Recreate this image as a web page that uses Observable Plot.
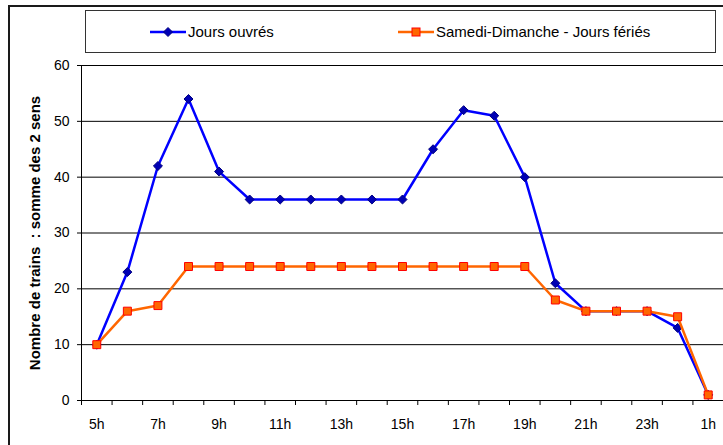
<!DOCTYPE html>
<html><head><meta charset="utf-8">
<script src="https://cdn.jsdelivr.net/npm/d3@7"></script>
<script src="https://cdn.jsdelivr.net/npm/@observablehq/plot@0.6"></script>
<style>
html,body{margin:0;padding:0;background:#fff;}
#wrap{position:relative;width:723px;height:445px;overflow:hidden;font-family:"Liberation Sans",Arial,sans-serif;}
#frame{position:absolute;left:8px;top:5px;width:800px;height:500px;border-left:2px solid #1a1a1a;border-top:2px solid #1a1a1a;}
#legend{position:absolute;left:85px;top:10px;width:629px;height:41px;border:1px solid #333;background:#fff;}
.item{position:absolute;top:0;height:41px;display:flex;align-items:center;font-size:15px;color:#000;white-space:nowrap;}
.item svg{margin-right:2px;}
#chart{position:absolute;left:0;top:54px;}
</style></head>
<body>
<div id="wrap">
  <div id="frame"></div>
  <div id="legend"></div>
  <div id="chart"></div>
</div>
<script>
const hours = ["5h","6h","7h","8h","9h","10h","11h","12h","13h","14h","15h","16h","17h","18h","19h","20h","21h","22h","23h","0h","1h"];
const joursOuvres = [10,23,42,54,41,36,36,36,36,36,36,45,52,51,40,21,16,16,16,13,1];
const weekendFeries = [10,16,17,24,24,24,24,24,24,24,24,24,24,24,24,18,16,16,16,15,1];
const yTicks = [0,10,20,30,40,50,60];
const seriesNames = ["Jours ouvrés","Samedi-Dimanche - Jours fériés"];
const yLabel = "Nombre de trains\u00a0 : somme des 2 sens";

const blue = "#0000FF", blueMark = "#0000B4", blueMarkStroke = "#000080";
const orange = "#FF6600", orangeStroke = "#FF0000";

// rotated-square diamond like Excel's marker
const squareDiamond = {
  draw(context, size) {
    const r = Math.sqrt(size / 2);
    context.moveTo(0, -r);
    context.lineTo(r, 0);
    context.lineTo(0, r);
    context.lineTo(-r, 0);
    context.closePath();
  }
};

// legend
const legend = document.getElementById("legend");
const legendPos = [64, 312];
seriesNames.forEach((name, k) => {
  const d = document.createElement("div");
  d.className = "item";
  d.style.left = legendPos[k] + "px";
  const sw = k === 0
    ? `<svg width="36" height="12"><line x1="0" y1="6" x2="36" y2="6" stroke="${blue}" stroke-width="2.5"/><path d="M18,1.5L22.5,6L18,10.5L13.5,6Z" fill="${blueMark}" stroke="${blueMarkStroke}"/></svg>`
    : `<svg width="36" height="12"><line x1="0" y1="6" x2="36" y2="6" stroke="${orange}" stroke-width="2.5"/><rect x="14" y="2" width="8" height="8" fill="${orange}" stroke="${orangeStroke}"/></svg>`;
  d.innerHTML = sw + `<span>${name}</span>`;
  legend.appendChild(d);
});

const a = hours.map((h, i) => ({i, h, v: joursOuvres[i]}));
const b = hours.map((h, i) => ({i, h, v: weekendFeries[i]}));
const idx = hours.map((h, i) => i);
const bounds = d3.range(hours.length + 1).map(i => i - 0.5);

const chart = Plot.plot({
  width: 723, height: 391,
  marginLeft: 81, marginRight: 0, marginTop: 11, marginBottom: 45,
  style: {fontFamily: "Liberation Sans, Arial, sans-serif", fontSize: "14px", color: "#000", background: "transparent", overflow: "visible"},
  x: {type: "linear", domain: [-0.5, hours.length - 0.5]},
  y: {domain: [0, 60]},
  marks: [
    Plot.gridY(yTicks.filter(t => t > 0), {stroke: "#000", strokeOpacity: 1, strokeWidth: 1}),
    Plot.ruleY([0], {stroke: "#000"}),
    Plot.ruleX([-0.5], {stroke: "#000"}),
    Plot.axisY(yTicks, {tickSize: 4, tickPadding: 8, label: null, fontSize: 14}),
    Plot.axisX(bounds, {tickSize: 5, tickFormat: () => "", label: null}),
    Plot.axisX(idx.filter(i => i % 2 === 0), {tickSize: 0, tickPadding: 19, tickFormat: i => hours[i], label: null, fontSize: 14}),
    Plot.text([yLabel], {frameAnchor: "left", rotate: -90, dx: -46, fontWeight: "bold", fontSize: 15, lineAnchor: "middle", textAnchor: "middle"}),
    Plot.line(a, {x: "i", y: "v", stroke: blue, strokeWidth: 2.5}),
    Plot.dot(a, {x: "i", y: "v", symbol: squareDiamond, r: 3.6, fill: blueMark, stroke: blueMarkStroke, strokeWidth: 1}),
    Plot.line(b, {x: "i", y: "v", stroke: orange, strokeWidth: 2.5}),
    Plot.dot(b, {x: "i", y: "v", symbol: "square", r: 4.5, fill: orange, stroke: orangeStroke, strokeWidth: 1})
  ]
});
document.getElementById("chart").appendChild(chart);
</script>
</body></html>
